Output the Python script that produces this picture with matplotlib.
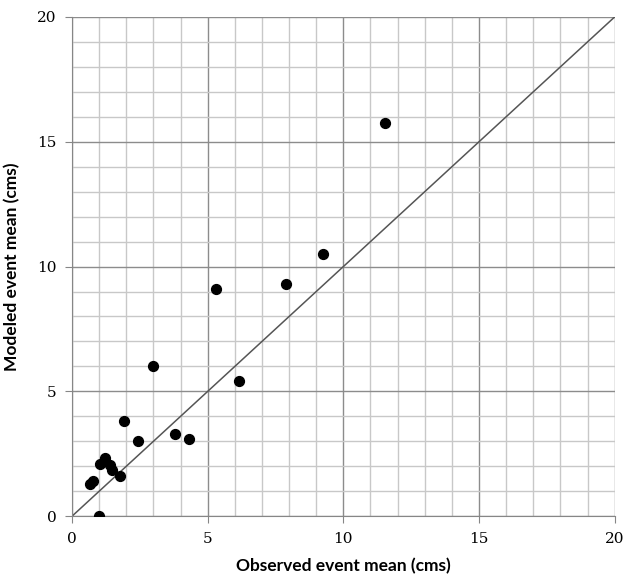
import matplotlib.pyplot as plt
from matplotlib.ticker import MultipleLocator

# observed vs modeled event means (cms)
observed = [11.55, 9.25, 7.9, 5.3, 3.0, 6.15, 1.92, 3.8, 4.3, 2.45,
            1.22, 1.03, 1.4, 1.48, 1.78, 0.79, 0.66, 1.0]
modeled = [15.75, 10.5, 9.3, 9.1, 6.0, 5.4, 3.8, 3.3, 3.1, 3.0,
           2.35, 2.1, 2.05, 1.85, 1.62, 1.42, 1.3, 0.02]
one_to_one = [0, 20]

fig = plt.figure(figsize=(6.26, 5.82), dpi=100)
ax = fig.add_axes([0.115, 0.113, 0.867, 0.858])

ax.set_xlim(0, 20)
ax.set_ylim(0, 20)
ax.xaxis.set_major_locator(MultipleLocator(5))
ax.yaxis.set_major_locator(MultipleLocator(5))
ax.xaxis.set_minor_locator(MultipleLocator(1))
ax.yaxis.set_minor_locator(MultipleLocator(1))

# grid: light minor, darker major
ax.grid(which='minor', color='#c8c8c8', lw=1)
ax.grid(which='major', color='#8c8c8c', lw=1)
ax.set_axisbelow(True)

ax.plot(one_to_one, one_to_one, color='#555555', lw=1.1, zorder=2)
ax.scatter(observed, modeled, s=50, color='black', zorder=3)

for s in ['top', 'right']:
    ax.spines[s].set_visible(False)
for s in ['left', 'bottom']:
    ax.spines[s].set_color('#868686')

ax.tick_params(which='major', direction='out', length=5, color='#868686',
               labelsize=11, pad=6, labelfontfamily='DejaVu Serif')
ax.tick_params(which='minor', length=0)

ax.set_xlabel('Observed event mean (cms)', family='Lato', fontweight='bold',
              fontsize=12.5, labelpad=9)
ax.set_ylabel('Modeled event mean (cms)', family='Lato', fontweight='bold',
              fontsize=12.5, labelpad=12)

fig.savefig('out.png')
